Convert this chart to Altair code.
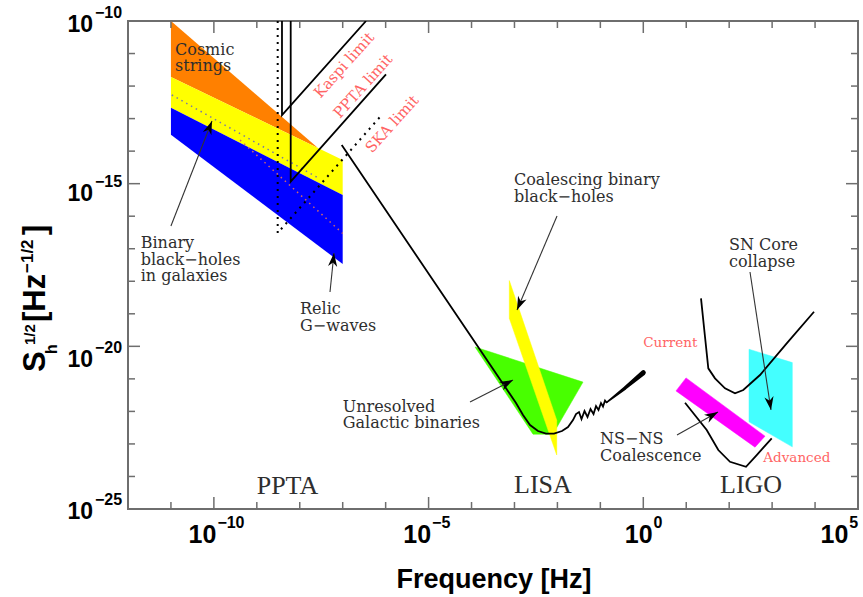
import math
import altair as alt
import numpy as np
import pandas as pd

# ---------------- data: log10(frequency / Hz) and log10(strain amplitude) ----------------
# pulsar-timing bands (cosmic strings / binary BHs / relic GWs)
orange_logf = [-11.0, -7.575]
orange_top = [-10.0, -13.90]
orange_bot = [-11.72, -13.90]
pta_logf = [-11.0, -7.0]
yellow_top = [-11.72, -14.27]
yellow_bot = [-12.665, -15.35]
blue_top = [-12.665, -15.35]
blue_bot = [-13.50, -17.47]
dot1_logf = [-10.98, -7.6]
dot1_logh = [-12.275, -14.80]
dot2_logf = [-9.39, -7.0]
dot2_logh = [-13.66, -16.53]

# pulsar timing limits
kaspi_logf = [-8.414, -8.414, -6.457]
kaspi_logh = [-10.0, -12.89, -10.0]
ppta_logf = [-8.211, -8.211, -5.992]
ppta_logh = [-10.0, -14.94, -11.638]
ska_logf = [-8.514, -8.514, -6.092]
ska_logh = [-10.0, -16.517, -12.890]

# LISA sensitivity curve
lisa_logf = [-7.023, -2.964, -2.801, -2.638, -2.452, -2.266, -2.079, -1.893, -1.753, -1.637,
             -1.567, -1.497, -1.439, -1.369, -1.299, -1.229, -1.159, -1.101, -1.043, -0.985,
             -0.938, -0.891, -0.845]
lisa_logh = [-13.812, -21.743, -22.112, -22.419, -22.604, -22.681, -22.681, -22.604, -22.481, -22.266,
             -22.081, -22.020, -22.235, -21.989, -22.173, -21.927, -22.081, -21.835, -21.958, -21.743,
             -21.851, -21.666, -21.743]
lisa_tail_logf = [-0.845, -0.426, 0.0]
lisa_tail_logh = [-21.712, -21.282, -20.811]
lisa_tail_width = [1.6, 3.4, 5.0]

# LIGO curves
ligo_cur_logf = [1.344, 1.437, 1.514, 1.670, 1.903, 2.136, 2.329, 2.718, 3.340, 3.976]
ligo_cur_logh = [-18.524, -19.705, -20.676, -20.984, -21.291, -21.445, -21.343, -20.882, -19.908, -18.936]
ligo_adv_logf = [0.972, 1.477, 1.747, 2.019, 2.392, 2.641, 2.991]
ligo_adv_logh = [-21.734, -22.573, -23.188, -23.548, -23.701, -23.342, -22.828]

# source regions (polygons)
green_logf = [-3.919, -1.404, -2.009, -2.126, -2.568]
green_logh = [-20.02, -21.10, -22.48, -22.70, -22.70]
cbbh_logf = [-3.120, -2.016, -2.016, -3.120]
cbbh_logh = [-17.98, -22.27, -23.34, -19.14]
nsns_logf = [0.762, 0.995, 2.834, 2.602]
nsns_logh = [-21.37, -20.97, -22.76, -23.10]
sn_logf = [2.462, 3.470, 3.470, 2.462]
sn_logh = [-20.09, -20.50, -23.09, -22.32]

# annotations
label_text = ["Cosmic\nstrings", "Binary\nblack\u2212holes\nin galaxies", "Relic\nG\u2212waves",
              "Coalescing binary\nblack\u2212holes", "SN Core\ncollapse",
              "Unresolved\nGalactic binaries", "NS\u2212NS\nCoalescence"]
label_logf = [-10.905, -11.704, -7.994, -3.011, 1.996, -7.0, -1.008]
label_logh = [-11.03, -16.978, -19.007, -15.041, -17.04, -22.011, -23.003]

red_text = ["Current", "Advanced"]
red_logf = [0.0, 2.795]
red_logh = [-20.006, -23.541]

limit_text = ["Kaspi limit", "PPTA limit", "SKA limit"]
limit_logf = [-6.970, -6.527, -5.852]
limit_logh = [-11.353, -11.998, -13.166]

exp_text = ["PPTA", "LISA", "LIGO"]
exp_logf = [-9.003, -3.011, 1.787]
exp_logh = [-24.54, -24.52, -24.52]

arrow_f1 = [-11.0, -7.296, -2.009, 2.485, -4.035, 0.785]
arrow_h1 = [-16.302, -18.331, -15.994, -17.716, -21.712, -22.727]
arrow_f2 = [-10.044, -7.203, -2.941, 2.974, -3.034, 1.740]
arrow_h2 = [-13.074, -17.132, -18.884, -21.958, -21.036, -22.020]

xtick_exp = [-10, -5, 0, 5]
xtick_lab = ["\u221210", "\u22125", "0", "5"]
ytick_exp = [-10, -15, -20, -25]
ytick_lab = ["\u221210", "\u221215", "\u221220", "\u221225"]

# ---------------- layout / style ----------------
W, H = 730, 488
XDOM = [-12, 5]
YDOM = [-25, -10]
KX = W / (XDOM[1] - XDOM[0])
KY = H / (YDOM[1] - YDOM[0])
FRAME = "#6e6e6e"
INK = "#2e2e2e"
RED = "#ff6464"
SERIF = "DejaVu Serif"
SANS = "Liberation Sans"

xs = alt.Scale(type="log", domain=[10.0 ** XDOM[0], 10.0 ** XDOM[1]], nice=False)
ys = alt.Scale(type="log", domain=[10.0 ** YDOM[0], 10.0 ** YDOM[1]], nice=False)


def X(field="f"):
    return alt.X(f"{field}:Q", scale=xs, axis=None)


def Y(field="h"):
    return alt.Y(f"{field}:Q", scale=ys, axis=None)


def pts(logf, logh, **extra):
    d = {"f": 10.0 ** np.array(logf, float), "h": 10.0 ** np.array(logh, float),
         "i": np.arange(len(logf))}
    d.update(extra)
    return pd.DataFrame(d)


def band(logf, top, bot, color):
    df = pd.DataFrame({"f": 10.0 ** np.array(logf), "t": 10.0 ** np.array(top),
                       "b": 10.0 ** np.array(bot)})
    return alt.Chart(df).mark_area(color=color, clip=True).encode(x=X(), y=Y("t"), y2="b")


def poly(logf, logh, color):
    return alt.Chart(pts(logf, logh)).mark_line(
        interpolate="linear-closed", fill=color, stroke=color, strokeWidth=0.5, clip=True
    ).encode(x=X(), y=Y(), order="i:Q")


def curve(logf, logh, width=1.8, color="black", dash=None):
    kw = dict(color=color, strokeWidth=width, clip=True)
    if dash:
        kw["strokeDash"] = dash
    return alt.Chart(pts(logf, logh)).mark_line(**kw).encode(x=X(), y=Y(), order="i:Q")


layers = []
# PTA bands
layers.append(band(orange_logf, orange_top, orange_bot, "#ff8000"))
layers.append(band(pta_logf, yellow_top, yellow_bot, "#ffff00"))
layers.append(band(pta_logf, blue_top, blue_bot, "#0000ff"))
layers.append(curve(dot1_logf, dot1_logh, 1.5, "#7878a8", [1.5, 4]))
layers.append(curve(dot2_logf, dot2_logh, 1.5, "#d06a6a", [1.5, 4]))

# source polygons
layers.append(poly(green_logf, green_logh, "#48ff00"))
layers.append(poly(cbbh_logf, cbbh_logh, "#ffff00"))
layers.append(poly(nsns_logf, nsns_logh, "#ff00ff"))
layers.append(poly(sn_logf, sn_logh, "#44ffff"))

# limits
layers.append(curve(kaspi_logf, kaspi_logh, 1.8))
layers.append(curve(ppta_logf, ppta_logh, 1.8))
layers.append(curve(ska_logf, ska_logh, 2.0, "black", [2, 5]))

# detector curves
layers.append(curve(lisa_logf, lisa_logh, 1.8))
tail = pts(lisa_tail_logf, lisa_tail_logh, w=lisa_tail_width)
layers.append(alt.Chart(tail).mark_trail(color="black", clip=True).encode(
    x=X(), y=Y(), size=alt.Size("w:Q", scale=None, legend=None), order="i:Q"))
layers.append(curve(ligo_cur_logf, ligo_cur_logh, 1.8))
layers.append(curve(ligo_adv_logf, ligo_adv_logh, 1.8))

# arrows
angles = []
for a, b, c, d in zip(arrow_f1, arrow_h1, arrow_f2, arrow_h2):
    dx = (c - a) * KX
    dy = -(d - b) * KY
    angles.append(math.degrees(math.atan2(dx, -dy)) % 360)
arr = pd.DataFrame({"f1": 10.0 ** np.array(arrow_f1), "h1": 10.0 ** np.array(arrow_h1),
                    "f2": 10.0 ** np.array(arrow_f2), "h2": 10.0 ** np.array(arrow_h2),
                    "ang": angles})
layers.append(alt.Chart(arr).mark_rule(color="#333333", strokeWidth=1.1).encode(
    x=X("f1"), y=Y("h1"), x2="f2", y2="h2"))
layers.append(alt.Chart(arr).mark_point(
    shape="M0,0 L0.75,2.2 L0,1.55 L-0.75,2.2 Z", filled=True, size=150, color="black", opacity=1
).encode(x=X("f2"), y=Y("h2"), angle=alt.Angle("ang:Q", scale=None)))

# text annotations
ann = pts(label_logf, label_logh, t=label_text)
layers.append(alt.Chart(ann).mark_text(
    align="left", baseline="alphabetic", font=SERIF, fontSize=16, color=INK,
    lineBreak="\n", lineHeight=16.5).encode(x=X(), y=Y(), text="t:N"))
redd = pts(red_logf, red_logh, t=red_text)
layers.append(alt.Chart(redd).mark_text(
    align="left", baseline="alphabetic", font=SERIF, fontSize=13.5, color=RED
).encode(x=X(), y=Y(), text="t:N"))
lim = pts(limit_logf, limit_logh, t=limit_text)
layers.append(alt.Chart(lim).mark_text(
    align="center", baseline="middle", font=SERIF, fontSize=15, color=RED, angle=312
).encode(x=X(), y=Y(), text="t:N"))
exd = pts(exp_logf, exp_logh, t=exp_text)
layers.append(alt.Chart(exd).mark_text(
    align="left", baseline="alphabetic", font="Liberation Serif", fontSize=26, color=INK
).encode(x=X(), y=Y(), text="t:N"))

# ticks (inward, all four sides)
xt = pd.DataFrame({"f": 10.0 ** np.arange(XDOM[0] + 1, XDOM[1]),
                   "major": [(e % 5 == 0) for e in range(XDOM[0] + 1, XDOM[1])]})
yt = pd.DataFrame({"h": 10.0 ** np.arange(YDOM[0] + 1, YDOM[1]),
                   "major": [(e % 5 == 0) for e in range(YDOM[0] + 1, YDOM[1])]})
for major, L in [(True, 12), (False, 7)]:
    dx_ = xt[xt.major == major]
    dy_ = yt[yt.major == major]
    rk = dict(color=FRAME, strokeWidth=1.5)
    layers.append(alt.Chart(dx_).mark_rule(**rk).encode(x=X(), y=alt.value(H), y2=alt.value(H - L)))
    layers.append(alt.Chart(dx_).mark_rule(**rk).encode(x=X(), y=alt.value(0), y2=alt.value(L)))
    layers.append(alt.Chart(dy_).mark_rule(**rk).encode(y=Y(), x=alt.value(0), x2=alt.value(L)))
    layers.append(alt.Chart(dy_).mark_rule(**rk).encode(y=Y(), x=alt.value(W), x2=alt.value(W - L)))

# tick labels: "10" with superscript exponent
x_ten_dx = [2.5, 2.5, 9.3, -9.7]
for e, lab, ddx in zip(xtick_exp, xtick_lab, x_ten_dx):
    d = pd.DataFrame({"f": [10.0 ** e], "t10": ["10"], "te": [lab]})
    layers.append(alt.Chart(d).mark_text(
        align="right", baseline="alphabetic", font=SANS, fontWeight="bold", fontSize=25,
        color="black", dx=ddx).encode(x=X(), y=alt.value(H + 34), text="t10:N"))
    layers.append(alt.Chart(d).mark_text(
        align="left", baseline="alphabetic", font=SANS, fontWeight="bold", fontSize=16,
        color="black", dx=ddx + 1).encode(x=X(), y=alt.value(H + 19), text="te:N"))

y_ten_dy = [11, 17, 21, 10]
for e, lab, ddy in zip(ytick_exp, ytick_lab, y_ten_dy):
    d = pd.DataFrame({"h": [10.0 ** e], "t10": ["10"], "te": [lab]})
    layers.append(alt.Chart(d).mark_text(
        align="right", baseline="alphabetic", font=SANS, fontWeight="bold", fontSize=23,
        color="black", dy=ddy).encode(y=Y(), x=alt.value(-35), text="t10:N"))
    layers.append(alt.Chart(d).mark_text(
        align="left", baseline="alphabetic", font=SANS, fontWeight="bold", fontSize=16,
        color="black", dy=ddy - 14).encode(y=Y(), x=alt.value(-33), text="te:N"))

# axis titles
layers.append(alt.Chart(pd.DataFrame({"t": ["Frequency [Hz]"]})).mark_text(
    align="center", baseline="alphabetic", font=SANS, fontWeight="bold", fontSize=27, color="black"
).encode(x=alt.value(366), y=alt.value(567), text="t:N"))

ytitle_parts = [("S", 31, -83, 351), ("h", 16, -71, 333), ("1/2", 15, -93, 324),
                ("[Hz", 31, -83, 301), ("\u22121/2", 17, -95, 252), ("]", 31, -83, 214)]
for txt, fs, px, py in ytitle_parts:
    layers.append(alt.Chart(pd.DataFrame({"t": [txt]})).mark_text(
        align="left", baseline="alphabetic", font=SANS, fontWeight="bold", fontSize=fs,
        color="black", angle=270).encode(x=alt.value(px), y=alt.value(py), text="t:N"))

chart = alt.layer(*layers).properties(
    width=W, height=H,
    autosize=alt.AutoSizeParams(type="none"),
    padding={"left": 128, "top": 21, "right": 5, "bottom": 88},
    background="white",
).configure_view(stroke=FRAME, strokeWidth=2)

chart.save("out.html", embed_options={"renderer": "svg", "actions": False})
